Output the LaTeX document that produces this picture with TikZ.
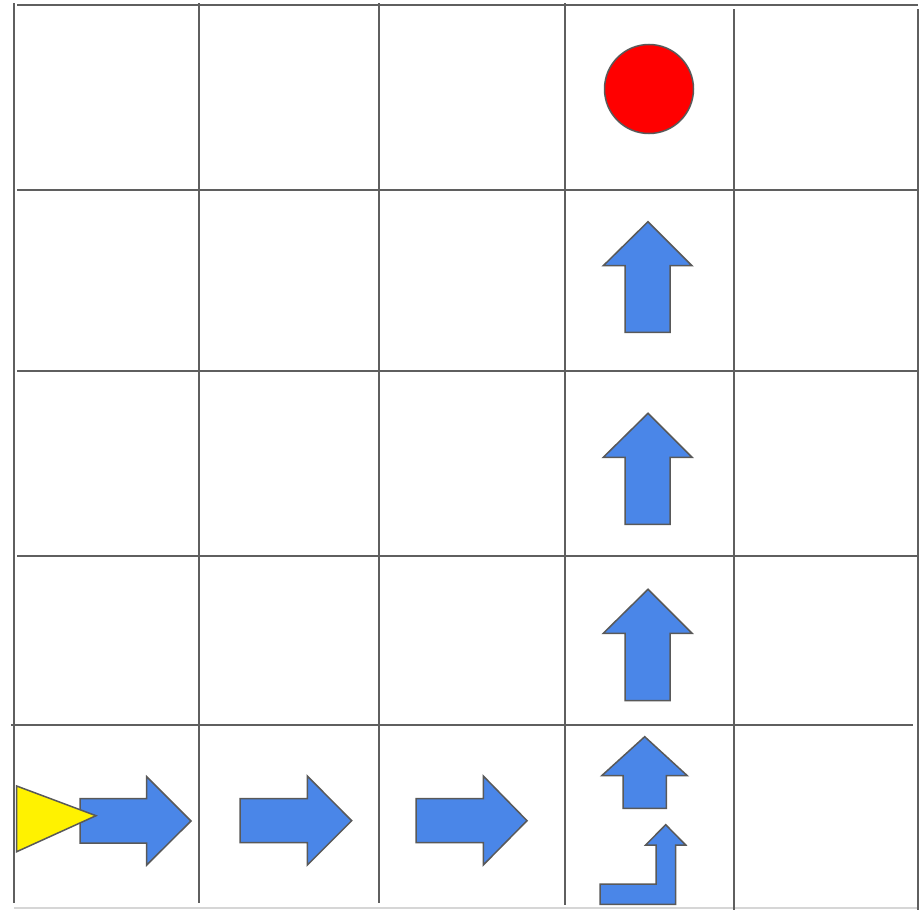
\documentclass[tikz,border=0pt]{standalone}
\usetikzlibrary{calc}
\definecolor{gridgray}{HTML}{5F5F5F}
\definecolor{edgegray}{HTML}{595959}
\definecolor{arrowblue}{HTML}{4A86E8}
\definecolor{lightgray}{HTML}{D6D6D6}
\tikzset{
  gridline/.style={draw=gridgray, line width=2pt},
  faintline/.style={draw=lightgray, line width=1.5pt},
  bluearrow/.style={fill=arrowblue, draw=edgegray, line width=1.5pt, line join=miter},
  goal/.style={fill=red, draw=edgegray, line width=1.5pt},
  agent/.style={fill=yellow, draw=edgegray, line width=1.5pt, line join=miter}
}
\begin{document}
\begin{tikzpicture}[x=1pt, y=-1pt]
\fill[white] (0,0) rectangle (922,910);
\useasboundingbox (0,0) rectangle (922,910);
% grid
\draw[faintline] (14,908) -- (918,908);
\draw[gridline] (14,3) -- (14,903);
\draw[gridline] (199,3) -- (199,903);
\draw[gridline] (379,3) -- (379,903);
\draw[gridline] (565,3) -- (565,905);
\draw[gridline] (734,9) -- (734,910);
\draw[gridline] (918,9) -- (918,910);
\draw[gridline] (17,5) -- (918,5);
\draw[gridline] (17,190) -- (918,190);
\draw[gridline] (17,371) -- (918,371);
\draw[gridline] (17,556) -- (918,556);
\draw[gridline] (11,725) -- (913,725);
% goal
\draw[goal] (649,89) circle[radius=44.5];
% up arrows in column 4
\draw[bluearrow] (625,332.3) -- (625,265.7) -- (603.3,265.7) -- (648,221.7) -- (692,265.7) -- (670,265.7) -- (670,332.3) -- cycle;
\draw[bluearrow] (625,524.3) -- (625,457.3) -- (603.3,457.3) -- (648,413.3) -- (692,457.3) -- (670,457.3) -- (670,524.3) -- cycle;
\draw[bluearrow] (625,700.7) -- (625,633.3) -- (603.3,633.3) -- (648,589.3) -- (692,633.3) -- (670,633.3) -- (670,700.7) -- cycle;
\draw[bluearrow] (623,808.3) -- (623,775.7) -- (601.7,775.7) -- (644.7,736.7) -- (687.3,775.7) -- (666.3,775.7) -- (666.3,808.3) -- cycle;
% L-shaped arrow
\draw[bluearrow] (600,884) -- (656,884) -- (656,845) -- (645.7,845) -- (665.7,824.7) -- (685.7,845) -- (675.7,845) -- (675.7,904.3) -- (600,904.3) -- cycle;
% right arrows in bottom row
\draw[bluearrow] (80,798.7) -- (146.7,798.7) -- (146.7,776.7) -- (191,821) -- (146.7,865) -- (146.7,843) -- (80,843) -- cycle;
\draw[bluearrow] (240,798.5) -- (307.3,798.5) -- (307.3,776) -- (351.7,820.7) -- (307.3,865) -- (307.3,842.5) -- (240,842.5) -- cycle;
\draw[bluearrow] (416,798.5) -- (483.3,798.5) -- (483.3,776) -- (527,820.7) -- (483.3,865) -- (483.3,842.5) -- (416,842.5) -- cycle;
% agent
\draw[agent] (16.7,786) -- (96,815.7) -- (16.7,851.7) -- cycle;
\end{tikzpicture}
\end{document}
